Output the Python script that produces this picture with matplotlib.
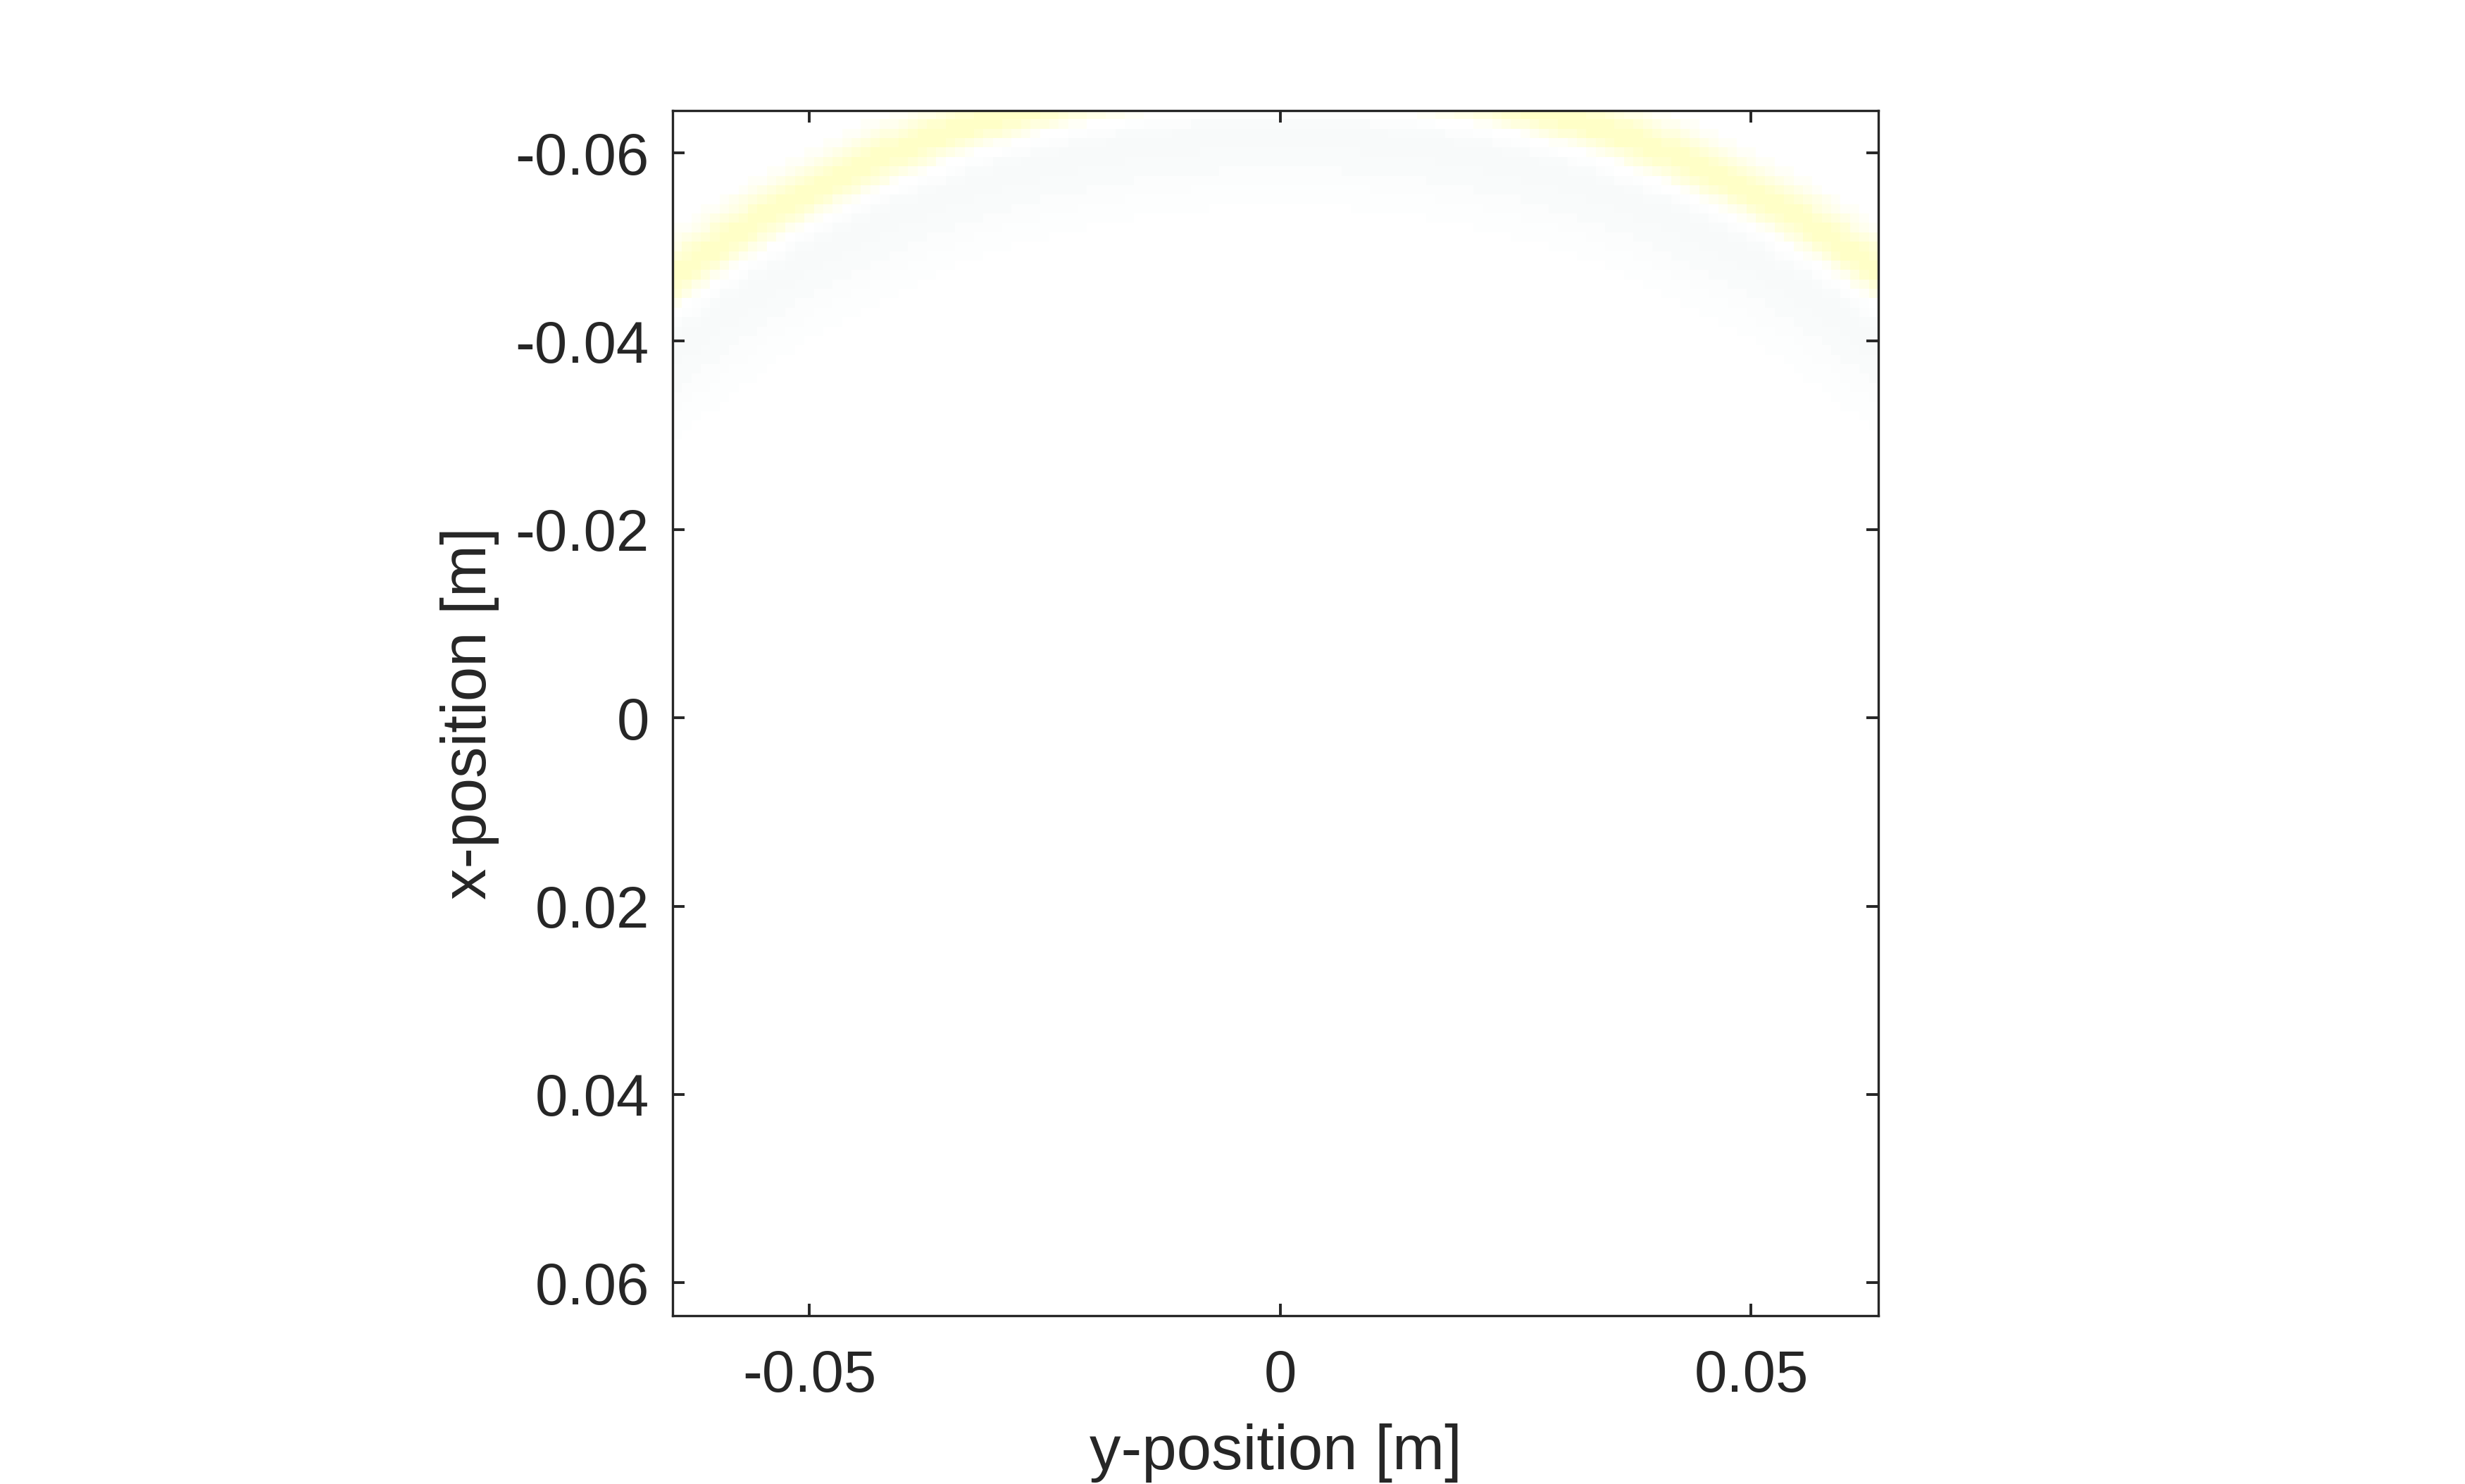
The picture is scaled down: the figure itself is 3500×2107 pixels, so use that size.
import numpy as np
import matplotlib
matplotlib.use('Agg')
import matplotlib.pyplot as plt
from matplotlib.colors import ListedColormap

# grid (128 x 128 points, 1 mm spacing, from -64 mm to 63 mm)
n_grid = 128
dx = 1e-3
x_start = -0.064
# wavefront: ring centre (y, x) and radius [m]
ring_centre_y = 0.0
ring_centre_x = 0.0404
ring_radius = 0.1083
# positive (yellow) front and negative (grey) trailing lobe
pos_amp = 0.062
pos_width = 0.0029
neg_amp = 0.034
neg_offset = 0.0057
neg_width_out = 0.0032
neg_width_in = 0.0065
clim = (-1, 1)

xlabel = 'y-position [m]'
ylabel = 'x-position [m]'
xticks = [-0.05, 0, 0.05]
yticks = [-0.06, -0.04, -0.02, 0, 0.02, 0.04, 0.06]

# field
coords = x_start + dx * np.arange(n_grid)
Y, X = np.meshgrid(coords, coords)
r = np.hypot(Y - ring_centre_y, X - ring_centre_x)
r_neg = ring_radius - neg_offset
w_neg = np.where(r > r_neg, neg_width_out, neg_width_in)
p = pos_amp * np.exp(-((r - ring_radius) / pos_width) ** 2) \
    - neg_amp * np.exp(-((r - r_neg) / w_neg) ** 2)

# k-Wave style map: top of bone for negatives, flipped hot for positives
neg = plt.get_cmap('bone')(np.linspace(0, 1, 176))[48:]
pos = plt.get_cmap('hot')(np.linspace(0, 1, 128))[::-1]
cmap = ListedColormap(np.vstack([neg, pos]))

plt.rcParams['font.family'] = ['Liberation Sans', 'DejaVu Sans']
axcol = '#262626'

lo = coords[0] - dx / 2
hi = coords[-1] + dx / 2

fig = plt.figure(figsize=(35, 21.07), dpi=100)
ax = fig.add_axes([0.2729, 0.1134, 0.4891, 0.8121])
ax.imshow(p, cmap=cmap, vmin=clim[0], vmax=clim[1], interpolation='nearest',
          extent=[lo, hi, hi, lo], aspect='auto')
ax.set_xlim(lo, hi)
ax.set_ylim(hi, lo)
ax.set_xticks(xticks)
ax.set_xticklabels(['-0.05', '0', '0.05'])
ax.set_yticks(yticks)
ax.set_yticklabels(['-0.06', '-0.04', '-0.02', '0', '0.02', '0.04', '0.06'])
ax.tick_params(direction='in', length=12, width=2.8, colors=axcol,
               labelsize=60, top=True, right=True)
ax.tick_params(axis='x', pad=34)
ax.tick_params(axis='y', pad=24)
for s in ax.spines.values():
    s.set_linewidth(2.4)
    s.set_color(axcol)
ax.set_xlabel(xlabel, fontsize=64, color=axcol, labelpad=20)
ax.set_ylabel(ylabel, fontsize=64, color=axcol, labelpad=16)

fig.savefig('out.png', dpi=100, facecolor='white')
